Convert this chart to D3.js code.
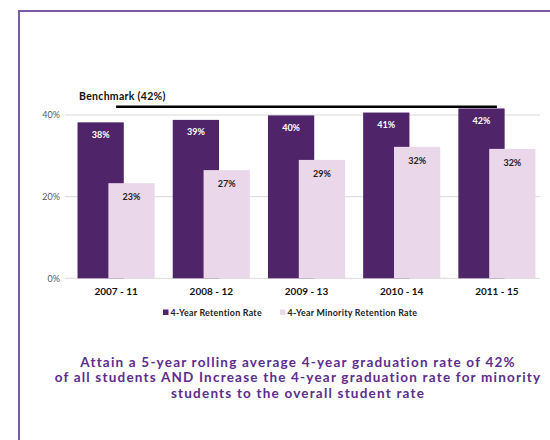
<!DOCTYPE html>
<html><head><meta charset="utf-8">
<script src="https://cdn.jsdelivr.net/npm/d3@7"></script>
<style>body{margin:0;background:#fff}svg{display:block}</style>
</head><body>
<svg id="c" width="550" height="440"></svg>
<script>
const categories = ["2007 - 11","2008 - 12","2009 - 13","2010 - 14","2011 - 15"];
const retention = [38.2, 38.8, 39.9, 40.6, 41.6];
const minority = [23.3, 26.5, 29.0, 32.2, 31.7];
const seriesNames = ["4-Year Retention Rate","4-Year Minority Retention Rate"];
const yTicks = [0, 20, 40];
const benchmark = 42;
const benchmarkLabel = "Benchmark (42%)";
const captionLines = ["Attain a 5-year rolling average 4-year graduation rate of 42%",
  "of all students AND Increase the 4-year graduation rate for minority",
  "students to the overall student rate"];

const svg = d3.select("#c");
const colors = ["#4f2469", "#ead8ea"];
const font = "Lato, 'Liberation Sans', sans-serif";

// frame
svg.append("path").attr("d","M19,440 V11 H550").attr("fill","none").attr("stroke","#7a5aa6").attr("stroke-width",2);

const y = d3.scaleLinear().domain([0,40]).range([278.3,115]);
const x = d3.scaleBand().domain(categories).range([68,545]).paddingInner(0.19).paddingOuter(0.1);
const bw = x.bandwidth();
const barW = bw*0.6;

// gridlines
svg.append("g").selectAll("line").data(yTicks).join("line")
  .attr("x1",65).attr("x2",540).attr("y1",d=>y(d)).attr("y2",d=>y(d))
  .attr("stroke","#d9d9d9").attr("stroke-width",1);

// y axis
const yAxis = d3.axisLeft(y).tickValues(yTicks).tickFormat(d=>d+"%").tickSize(0).tickPadding(5);
const ga = svg.append("g").attr("transform","translate(65,0)").call(yAxis);
ga.select(".domain").remove();
ga.selectAll("text").attr("font-family",font).attr("font-size",9).attr("fill","#595959");

// bars
const g = svg.append("g");
g.selectAll("rect.r").data(retention).join("rect").attr("class","r")
  .attr("x",(d,i)=>x(categories[i])).attr("width",barW)
  .attr("y",d=>y(d)).attr("height",d=>y(0)-y(d)).attr("fill",colors[0]);
g.selectAll("rect.m").data(minority).join("rect").attr("class","m")
  .attr("x",(d,i)=>x(categories[i])+bw-barW).attr("width",barW)
  .attr("y",d=>y(d)).attr("height",d=>y(0)-y(d)).attr("fill",colors[1]);

// labels
g.selectAll("text.rl").data(retention).join("text").attr("class","rl")
  .attr("x",(d,i)=>x(categories[i])+barW/2).attr("y",d=>y(d)+15.3)
  .attr("text-anchor","middle").attr("font-family",font).attr("font-weight","bold")
  .attr("font-size",9).attr("fill","#fff").text(d=>Math.round(d)+"%");
g.selectAll("text.ml").data(minority).join("text").attr("class","ml")
  .attr("x",(d,i)=>x(categories[i])+bw-barW/2).attr("y",d=>y(d)+16.7)
  .attr("text-anchor","middle").attr("font-family",font).attr("font-weight","bold")
  .attr("font-size",9).attr("fill","#222").text(d=>Math.round(d)+"%");

// benchmark line
svg.append("line")
  .attr("x1",x(categories[0])+bw/2).attr("x2",x(categories[categories.length-1])+bw/2)
  .attr("y1",y(benchmark)).attr("y2",y(benchmark))
  .attr("stroke","#000").attr("stroke-width",2.5);
svg.append("text").attr("x",79).attr("y",99.5).attr("font-family",font).attr("font-weight","bold")
  .attr("font-size",10.5).attr("letter-spacing",0.3).attr("fill","#111").text(benchmarkLabel);

// x axis labels
const xAxis = d3.axisBottom(x).tickSize(0).tickPadding(10);
const gx = svg.append("g").attr("transform",`translate(0,${y(0)})`).call(xAxis);
gx.select(".domain").remove();
gx.selectAll("text").attr("font-family",font).attr("font-weight","bold").attr("font-size",10).attr("fill","#111");

// legend
const legX = [163, 280];
const lg = svg.append("g");
seriesNames.forEach((n,i)=>{
  lg.append("rect").attr("x",legX[i]).attr("y",309.5).attr("width",5.5).attr("height",5.5).attr("fill",colors[i]);
  lg.append("text").attr("x",legX[i]+7.5).attr("y",315.5).attr("font-family",font).attr("font-weight","bold")
    .attr("font-size",8.9).attr("letter-spacing",0.25).attr("fill","#222").text(n);
});

// caption
svg.append("g").selectAll("text").data(captionLines).join("text")
  .attr("x",298).attr("y",(d,i)=>366.5+i*15.5).attr("text-anchor","middle")
  .attr("font-family",font).attr("font-weight","bold").attr("letter-spacing",1.2)
  .attr("font-size",13.5).attr("fill","#5b2d8e").text(d=>d);
</script>
</body></html>
